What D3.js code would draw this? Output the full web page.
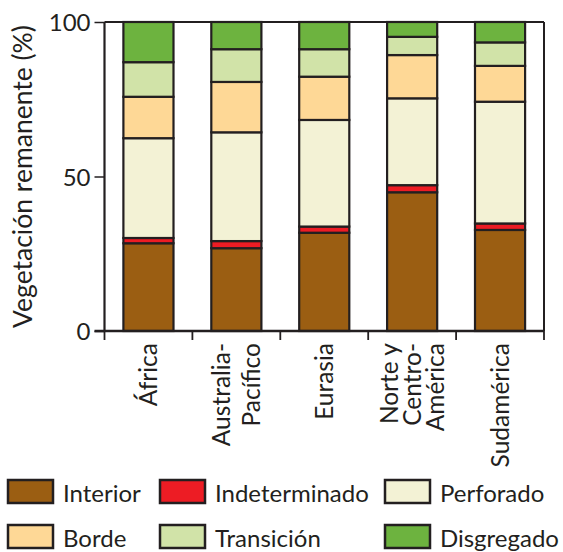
<!DOCTYPE html>
<html>
<head>
<meta charset="utf-8">
<script src="https://cdn.jsdelivr.net/npm/d3@7"></script>
<style>
  html, body { margin: 0; padding: 0; background: #fff; }
  svg { display: block; font-family: Lato, "Open Sans", sans-serif; }
</style>
</head>
<body>
<svg id="chart" width="563" height="552"></svg>
<script>
// ---- data ----
const categories = ["África", "Australia-Pacífico", "Eurasia", "Norte y Centro-América", "Sudamérica"];
const categoryLines = [["África"], ["Australia-", "Pacífico"], ["Eurasia"], ["Norte y", "Centro-", "América"], ["Sudamérica"]];
const seriesNames = ["Interior", "Indeterminado", "Perforado", "Borde", "Transición", "Disgregado"];
const interior      = [28.4, 26.8, 31.8, 44.9, 32.7];
const indeterminado = [1.7, 2.3, 2.0, 2.3, 2.1];
const perforado     = [32.3, 35.2, 34.5, 28.1, 39.4];
const borde         = [13.4, 16.3, 14.0, 14.0, 11.6];
const transicion    = [11.2, 10.6, 8.9, 5.9, 7.6];
const disgregado    = [13.0, 8.8, 8.8, 4.8, 6.6];
const yTicks = [0, 50, 100];
const yTitle = "Vegetación remanente (%)";

(function () {
const seriesValues = [interior, indeterminado, perforado, borde, transicion, disgregado];
const colors = ["#9B5E12", "#ED1C24", "#F3F2D5", "#FED896", "#D1E3A8", "#6DB33F"];
const ink = "#231F20";

const rows = categories.map((c, i) => {
  const r = { cat: c };
  seriesNames.forEach((s, j) => r[s] = seriesValues[j][i]);
  return r;
});

const svg = d3.select("#chart");
const pLeft = 104.5, pRight = 544, pTop = 22, pBottom = 331;

const x = d3.scaleBand().domain(categories).range([pLeft, pRight]).padding(0);
const y = d3.scaleLinear().domain([0, 100]).range([pBottom, pTop]);
const color = d3.scaleOrdinal().domain(seriesNames).range(colors);

const stacked = d3.stack().keys(seriesNames)(rows);
const bw = x.bandwidth();
const barW = bw * 0.57;

// bars
svg.append("g").selectAll("g").data(stacked).join("g")
  .attr("fill", d => color(d.key))
  .selectAll("rect").data(d => d).join("rect")
  .attr("x", d => x(d.data.cat) + (bw - barW) / 2)
  .attr("width", barW)
  .attr("y", d => y(d[1]))
  .attr("height", d => y(d[0]) - y(d[1]))
  .attr("stroke", ink)
  .attr("stroke-width", 2.2);

// frame
const frame = svg.append("g").attr("stroke", ink).attr("stroke-width", 2).attr("fill", "none");
frame.append("line").attr("x1", pLeft).attr("x2", pRight).attr("y1", pTop).attr("y2", pTop);
frame.append("line").attr("x1", pRight).attr("x2", pRight).attr("y1", pTop).attr("y2", pBottom);

// y axis
const yAxis = svg.append("g").attr("transform", `translate(${pLeft},0)`)
  .call(d3.axisLeft(y).tickValues(yTicks).tickSize(10).tickPadding(4).tickFormat(d3.format("d")));
yAxis.select(".domain").attr("stroke", ink).attr("stroke-width", 2.2).attr("d", `M0,${pTop}V${pBottom}`);
yAxis.selectAll(".tick line").attr("stroke", ink).attr("stroke-width", 1.5);
yAxis.selectAll(".tick text").attr("fill", ink).attr("font-size", 24).attr("font-family", "Lato")
  .attr("dy", "0.36em");

// x axis (separators at band boundaries)
const boundaries = categories.map(c => x(c)).concat([x(categories[categories.length - 1]) + bw]);
const xg = svg.append("g");
xg.append("line").attr("x1", pLeft - 10).attr("x2", pRight).attr("y1", pBottom).attr("y2", pBottom)
  .attr("stroke", ink).attr("stroke-width", 2.4);
xg.selectAll("line.tk").data(boundaries).join("line").attr("class", "tk")
  .attr("x1", d => d).attr("x2", d => d).attr("y1", pBottom).attr("y2", pBottom + 9)
  .attr("stroke", ink).attr("stroke-width", 1.8);

// x labels (rotated)
const xl = svg.append("g").attr("fill", ink).attr("font-size", 24.5);
categories.forEach((c, i) => {
  const lines = categoryLines[i];
  const spacing = lines.length === 2 ? 30 : 23;
  const cx = x(c) + bw / 2;
  lines.forEach((ln, k) => {
    const off = (k - (lines.length - 1) / 2) * spacing;
    xl.append("text")
      .attr("transform", `translate(${cx + off + 9},${pBottom + 12}) rotate(-90)`)
      .attr("text-anchor", "end")
      .text(ln);
  });
});

// y title
svg.append("text")
  .attr("transform", `translate(32,${(pTop + pBottom) / 2}) rotate(-90)`)
  .attr("text-anchor", "middle")
  .attr("fill", ink)
  .attr("font-size", 26.5)
  .text(yTitle);

// legend
const legCols = [7, 159, 384];
const legRows = [479, 524];
const lg = svg.append("g");
seriesNames.forEach((s, i) => {
  const col = i % 3, row = Math.floor(i / 3);
  const g = lg.append("g").attr("transform", `translate(${legCols[col]},${legRows[row]})`);
  g.append("rect").attr("x", 1).attr("y", 1).attr("width", 45).attr("height", 23)
    .attr("fill", color(s)).attr("stroke", ink).attr("stroke-width", 2.5);
  g.append("text").attr("x", 56).attr("y", 23).attr("fill", ink)
    .attr("font-size", 24).text(s);
});
})();
</script>
</body>
</html>
